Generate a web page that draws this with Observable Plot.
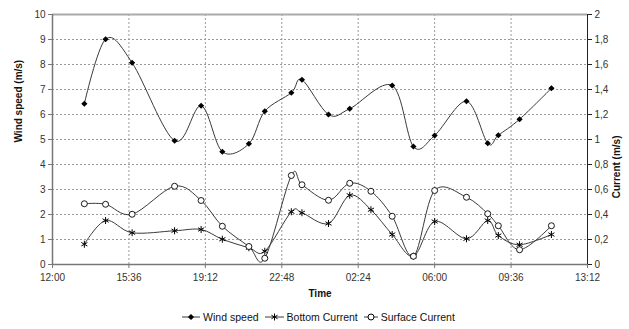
<!DOCTYPE html>
<html>
<head>
<meta charset="utf-8">
<script src="https://cdn.jsdelivr.net/npm/d3@7"></script>
<script src="https://cdn.jsdelivr.net/npm/@observablehq/plot@0.6"></script>
<style>
  html, body { margin: 0; padding: 0; background: #fff; }
  body { width: 629px; height: 329px; overflow: hidden; font-family: "Liberation Sans", Arial, sans-serif; }
  #legend { display: flex; justify-content: center; align-items: center; height: 24px; font-size: 10.5px; color: #111; padding-left: 8px; }
  .item { display: flex; align-items: center; margin: 0 3px; }
  .item svg { margin-right: 3px; }
</style>
</head>
<body>
<div id="chart"></div>
<div id="legend"></div>
<script>
// ---- data ----
const windTimes = ["13:30","14:30","15:45","17:45","19:00","20:00","21:15","22:00","23:15","23:45","01:00","02:00","04:00","05:00","06:00","07:30","08:30","09:00","10:00","11:30"];
const windSpeed = [6.43, 9.01, 8.07, 4.95, 6.35, 4.51, 4.83, 6.13, 6.87, 7.39, 6.0, 6.23, 7.16, 4.72, 5.16, 6.53, 4.85, 5.17, 5.81, 7.05];

const currentTimes = ["13:30","14:30","15:45","17:45","19:00","20:00","21:15","22:00","23:15","23:45","01:00","02:00","03:00","04:00","05:00","06:00","07:30","08:30","09:00","10:00","11:30"];
const bottomCurrent  = [0.162, 0.352, 0.254, 0.270, 0.280, 0.202, 0.134, 0.106, 0.422, 0.414, 0.328, 0.554, 0.438, 0.240, 0.066, 0.344, 0.206, 0.352, 0.232, 0.158, 0.240];
const surfaceCurrent = [0.486, 0.482, 0.402, 0.626, 0.512, 0.306, 0.144, 0.050, 0.712, 0.638, 0.514, 0.650, 0.586, 0.386, 0.066, 0.592, 0.538, 0.406, 0.310, 0.118, 0.310];

const timeTicks = ["12:00","15:36","19:12","22:48","02:24","06:00","09:36","13:12"];
const windTicks = [0,1,2,3,4,5,6,7,8,9,10];
const currentTicks = [0,0.2,0.4,0.6,0.8,1,1.2,1.4,1.6,1.8,2];
const windMax = 10;
const currentMax = 2;

// ---- helpers ----
// hours elapsed since 12:00 of the first day, unwrapping past midnight
function unwrap(times) {
  let add = 0, prev = -Infinity;
  return times.map(t => {
    const [h, m] = t.split(":").map(Number);
    let v = (((h * 60 + m) - 720 + 1440) % 1440) / 60 + add;
    if (v < prev) { add += 24; v += 24; }
    prev = v;
    return v;
  });
}
const ratio = windMax / currentMax;
const tickHours = unwrap(timeTicks);
const labelByHour = new Map(tickHours.map((h, i) => [Math.round(h * 100), timeTicks[i]]));
const fmtComma = v => String(Math.round(v * 10) / 10).replace(".", ",");

const wt = unwrap(windTimes);
const ct = unwrap(currentTimes);
const wind = wt.map((t, i) => ({t, v: windSpeed[i]}));
const bottom = ct.map((t, i) => ({t, v: bottomCurrent[i]}));
const surface = ct.map((t, i) => ({t, v: surfaceCurrent[i]}));

const xMin = tickHours[0], xMax = tickHours[tickHours.length - 1];
const lineColor = "#3a3a3a";

const chart = Plot.plot({
  width: 629,
  height: 305,
  marginTop: 14,
  marginBottom: 41,
  marginLeft: 52,
  marginRight: 42,
  style: { fontFamily: "Liberation Sans, Arial, sans-serif", fontSize: "10px", background: "#fff", color: "#222" },
  x: { type: "linear", domain: [xMin, xMax] },
  y: { domain: [0, windMax] },
  marks: [
    // grid
    Plot.ruleY(windTicks.slice(1, -1), { stroke: "#9a9a9a", strokeDasharray: "2,2", strokeWidth: 1 }),
    Plot.ruleX(tickHours.slice(1, -1), { stroke: "#9a9a9a", strokeDasharray: "2,2", strokeWidth: 1 }),
    // frame
    Plot.ruleY([windMax], { stroke: "#aaa", strokeWidth: 2 }),
    Plot.ruleX([xMin], { stroke: "#777", strokeWidth: 1.5 }),
    Plot.ruleX([xMax], { stroke: "#222", strokeWidth: 1 }),
    Plot.ruleY([0], { stroke: "#777", strokeWidth: 1.5 }),
    // axes
    Plot.axisX({ ticks: tickHours, tickFormat: d => labelByHour.get(Math.round(d * 100)), tickSize: 4, tickPadding: 5, label: null, stroke: "#777", fill: "#333" }),
    Plot.axisY({ ticks: windTicks, tickSize: 4, tickPadding: 3, label: null, stroke: "#777", fill: "#333" }),
    Plot.axisY({ anchor: "right", ticks: currentTicks.map(c => c * ratio), tickFormat: d => fmtComma(d / ratio), tickSize: 4, tickPadding: 3, label: null, stroke: "#222", fill: "#333" }),
    // axis titles
    Plot.text(["Wind speed (m/s)"], { frameAnchor: "left", dx: -34, dy: 3, rotate: -90, fontWeight: "bold", fontSize: 10, fill: "#111" }),
    Plot.text(["Current (m/s)"], { frameAnchor: "right", dx: 29, dy: -4, rotate: -90, fontWeight: "bold", fontSize: 10, fill: "#111" }),
    Plot.text(["Time"], { frameAnchor: "bottom", dy: 32, fontWeight: "bold", fontSize: 10, fill: "#111" }),
    // series lines (Excel-like smoothing)
    Plot.line(wind, { x: "t", y: "v", curve: "cardinal", tension: 0, stroke: lineColor, strokeWidth: 1 }),
    Plot.line(bottom, { x: "t", y: d => d.v * ratio, curve: "cardinal", tension: 0, stroke: lineColor, strokeWidth: 1 }),
    Plot.line(surface, { x: "t", y: d => d.v * ratio, curve: "cardinal", tension: 0, stroke: lineColor, strokeWidth: 1 }),
    // markers
    Plot.dot(wind, { x: "t", y: "v", symbol: "diamond2", r: 2.8, fill: "#000", stroke: "none" }),
    Plot.dot(bottom, { x: "t", y: d => d.v * ratio, symbol: "asterisk", r: 3.3, fill: "none", stroke: "#000", strokeWidth: 1 }),
    Plot.dot(surface, { x: "t", y: d => d.v * ratio, symbol: "circle", r: 3, fill: "#fff", stroke: "#000", strokeWidth: 0.9 })
  ]
});
document.getElementById("chart").appendChild(chart);

// ---- legend ----
const series = [
  { name: "Wind speed", symbol: d3.symbolDiamond2, size: Math.PI * 2.8 * 2.8, fill: "#000", stroke: "none", w: 18 },
  { name: "Bottom Current", symbol: d3.symbolAsterisk, size: Math.PI * 3.3 * 3.3, fill: "none", stroke: "#000", w: 19 },
  { name: "Surface Current", symbol: d3.symbolCircle, size: Math.PI * 3 * 3, fill: "#fff", stroke: "#000", w: 14 }
];
const legend = d3.select("#legend");
for (const s of series) {
  const item = legend.append("div").attr("class", "item");
  const svg = item.append("svg").attr("width", s.w).attr("height", 10);
  svg.append("line").attr("x1", 0).attr("x2", s.w).attr("y1", 5).attr("y2", 5).attr("stroke", lineColor);
  svg.append("path").attr("transform", `translate(${s.w / 2},5)`)
    .attr("d", d3.symbol(s.symbol, s.size)()).attr("fill", s.fill).attr("stroke", s.stroke);
  item.append("span").text(s.name);
}
</script>
</body>
</html>
